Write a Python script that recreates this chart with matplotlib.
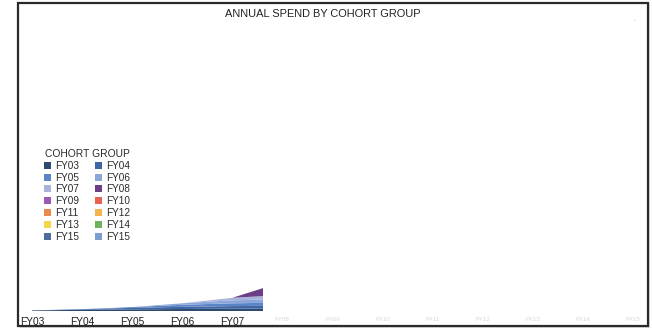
import matplotlib
matplotlib.use('Agg')
import matplotlib.pyplot as plt
from matplotlib.patches import Rectangle, Patch

plt.rcParams['font.family'] = ['Liberation Sans', 'DejaVu Sans']

# cohort spend data ($M) by fiscal year
years = ['FY03', 'FY04', 'FY05', 'FY06', 'FY07', 'FY08', 'FY09',
         'FY10', 'FY11', 'FY12', 'FY13', 'FY14', 'FY15']
cohorts = ['FY03', 'FY04', 'FY05', 'FY06', 'FY07', 'FY08', 'FY09',
           'FY10', 'FY11', 'FY12', 'FY13', 'FY14', 'FY15', 'FY15']
spend = [
    [0.6, 1.2, 1.6, 2.0, 2.3, 2.5, 2.6, 2.7, 2.8, 2.8, 2.9, 2.9, 3.0],
    [0, 0.6, 1.5, 2.2, 2.6, 2.8, 3.0, 3.1, 3.2, 3.3, 3.3, 3.4, 3.4],
    [0, 0, 0.8, 2.0, 2.8, 3.1, 3.4, 3.6, 3.8, 3.9, 4.0, 4.1, 4.1],
    [0, 0, 0, 1.5, 3.0, 3.4, 4.0, 4.4, 4.7, 4.9, 5.0, 5.1, 5.2],
    [0, 0, 0, 0, 2.5, 4.2, 5.5, 6.3, 6.9, 7.3, 7.6, 7.8, 8.0],
    [0, 0, 0, 0, 0, 13.0, 17.0, 19.0, 20.5, 21.5, 22.0, 22.5, 23.0],
    [0, 0, 0, 0, 0, 0, 14.0, 19.0, 22.0, 24.0, 25.0, 26.0, 26.5],
    [0, 0, 0, 0, 0, 0, 0, 16.0, 22.0, 25.0, 27.0, 28.0, 29.0],
    [0, 0, 0, 0, 0, 0, 0, 0, 18.0, 24.0, 27.0, 29.0, 30.0],
    [0, 0, 0, 0, 0, 0, 0, 0, 0, 20.0, 26.0, 29.0, 31.0],
    [0, 0, 0, 0, 0, 0, 0, 0, 0, 0, 22.0, 28.0, 31.0],
    [0, 0, 0, 0, 0, 0, 0, 0, 0, 0, 0, 24.0, 30.0],
    [0, 0, 0, 0, 0, 0, 0, 0, 0, 0, 0, 0, 26.0],
    [0, 0, 0, 0, 0, 0, 0, 0, 0, 0, 0, 0, 8.0],
]
colors = ['#2d4a6f', '#3f66a3', '#5a84c6', '#8aa6da', '#a8b3da', '#6b3f86',
          '#9b5bb5', '#e8604e', '#e98a4f', '#f2b64c', '#f5d64a', '#6db35c',
          '#4f6d9c', '#7d9dd0']
# the chart is caught mid-animation: area drawn only up to here
reveal_x = 4.61

fig = plt.figure(figsize=(6.52, 3.29), dpi=100)
fig.patch.set_facecolor('white')

# window frame with a soft shadow
fig.patches.append(Rectangle((20 / 652, 1 - 328 / 329), 630 / 652, 324 / 329,
                             transform=fig.transFigure, fc='#bbbbbb', ec='none',
                             alpha=0.5, zorder=-2))
fig.patches.append(Rectangle((18 / 652, 1 - 326 / 329), 630 / 652, 323 / 329,
                             transform=fig.transFigure, fc='white', ec='#2a2a2a',
                             lw=1.6, zorder=-1))

ax = fig.add_axes([19 / 652, 1 - 311 / 329, 627 / 652, 286 / 329])
ax.patch.set_alpha(0)
x = list(range(len(years)))
polys = ax.stackplot(x, spend, colors=colors, lw=0)
clip = Rectangle((-1, 0), reveal_x + 1, 300, transform=ax.transData)
for p in polys:
    p.set_clip_path(clip)

ax.set_xlim(-0.26, 12.26)
ax.set_ylim(0, 286)
ax.set_xticks(x)
ax.set_xticklabels(years)
ax.set_yticks([])
ax.tick_params(axis='x', length=0, pad=4.5)
for i, lab in enumerate(ax.get_xticklabels()):
    if i <= 4:
        lab.set_fontsize(7.3)
        lab.set_color('#1e1e1e')
    else:
        lab.set_fontsize(4.5)
        lab.set_color('#d6d6d6')
for s in ax.spines.values():
    s.set_visible(False)

fig.text(323 / 652, 1 - 14 / 329, 'ANNUAL SPEND BY COHORT GROUP',
         ha='center', va='center', fontsize=7.9, color='#222222')
fig.text(635 / 652, 1 - 21 / 329, '-', ha='center', va='center',
         fontsize=4, color='#aaaaaa')

handles = [Patch(fc=c, ec='none') for c in colors]
order = list(range(0, 14, 2)) + list(range(1, 14, 2))
leg = ax.legend([handles[i] for i in order], [cohorts[i] for i in order],
                ncol=2, title='COHORT GROUP', frameon=False,
                loc='upper left', bbox_to_anchor=(20 / 627, 1 - 119 / 286),
                fontsize=7.2, title_fontsize=7.4,
                handlelength=0.7, handleheight=0.7, handletextpad=0.45,
                labelspacing=0.18, columnspacing=1.5, borderpad=0)
for t in leg.get_texts():
    t.set_color('#2a2a2a')
leg.get_title().set_color('#2a2a2a')

fig.savefig('out.png', dpi=100)
